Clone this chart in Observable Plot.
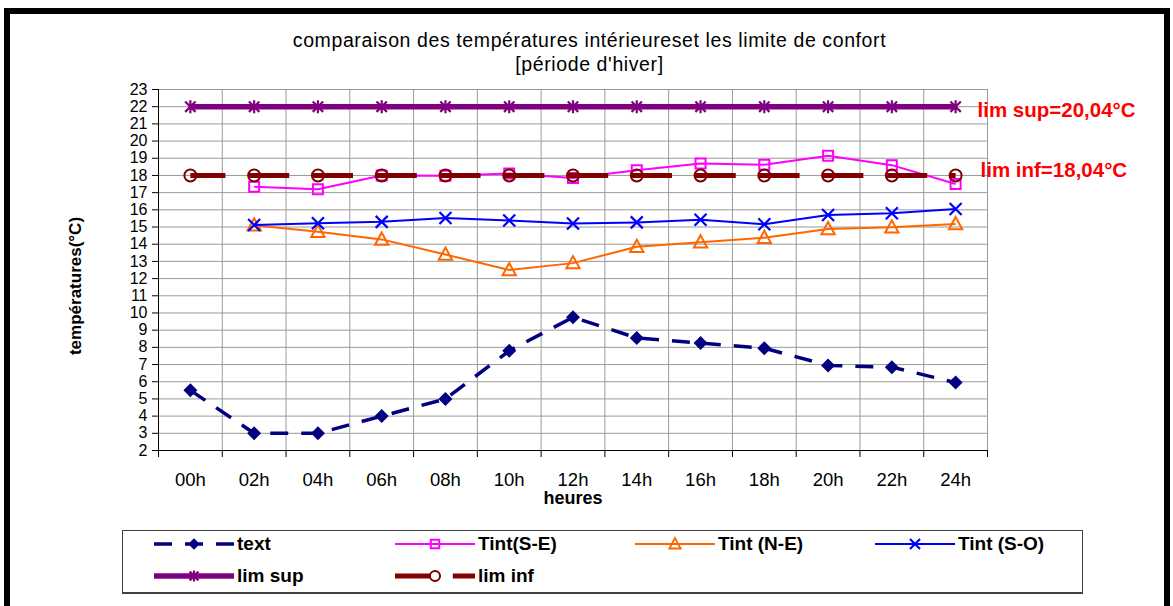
<!DOCTYPE html>
<html>
<head>
<meta charset="utf-8">
<script src="https://cdn.jsdelivr.net/npm/d3@7"></script>
<script src="https://cdn.jsdelivr.net/npm/@observablehq/plot@0.6"></script>
<style>
  html, body { margin: 0; padding: 0; background: #fff; }
  #wrap { position: relative; width: 1173px; height: 606px; overflow: hidden; background: #fff;
          font-family: "Liberation Sans", Arial, sans-serif; }
  #frame { position: absolute; left: 4px; top: 8px; width: 1166px; height: 700px;
           border: 6px solid #000; border-bottom: none; box-sizing: border-box; }
  #title { position: absolute; left: 0; width: 1179px; top: 28px; text-align: center;
           font-size: 19.5px; letter-spacing: 0.6px; line-height: 24px; color: #000; }
  #chart { position: absolute; left: 0; top: 0; }
  #legend { position: absolute; left: 122px; top: 530px; width: 961px; height: 64px;
            border: 1px solid #404040; border-bottom: 2px solid #404040; box-sizing: border-box; background: #fff; }
  .item { position: absolute; display: flex; align-items: center; height: 24px;
          font-weight: bold; font-size: 19px; color: #000; }
  .item svg { display: block; margin-right: 3px; }
</style>
</head>
<body>
<div id="wrap">
  <div id="frame"></div>
  <div id="title">comparaison des températures intérieureset les limite de confort<br>[période d'hiver]</div>
  <div id="chart"></div>
  <div id="legend"></div>
</div>
<script>
// ---- data ----
const hours = ["00h","02h","04h","06h","08h","10h","12h","14h","16h","18h","20h","22h","24h"];
const tExt   = [5.5, 3.0, 3.0, 4.0, 5.0, 7.8, 9.75, 8.55, 8.25, 7.95, 6.95, 6.85, 5.95];
const tintSE = [null, 17.35, 17.2, 18.0, 17.98, 18.12, 17.85, 18.3, 18.7, 18.62, 19.15, 18.6, 17.5];
const tintNE = [null, 15.1, 14.72, 14.28, 13.4, 12.5, 12.9, 13.85, 14.12, 14.38, 14.88, 14.98, 15.18];
const tintSO = [null, 15.12, 15.22, 15.3, 15.52, 15.38, 15.2, 15.27, 15.42, 15.16, 15.7, 15.8, 16.05];
const limSup = [22, 22, 22, 22, 22, 22, 22, 22, 22, 22, 22, 22, 22];
const limInf = [18, 18, 18, 18, 18, 18, 18, 18, 18, 18, 18, 18, 18];
const yTicks = d3.range(2, 24);
const seriesNames = ["text", "Tint(S-E)", "Tint (N-E)", "Tint (S-O)", "lim sup", "lim inf"];
const limSupLabel = "lim sup=20,04°C";
const limInfLabel = "lim inf=18,04°C";
const yTitle = "températures(°C)";
const xTitle = "heures";

// ---- custom Excel-like marker symbols ----
const rad = s => Math.sqrt(s / Math.PI);
const symDiamond = {draw(c, s) { const r = rad(s); c.moveTo(0, -r); c.lineTo(r, 0); c.lineTo(0, r); c.lineTo(-r, 0); c.closePath(); }};
const symSquare = {draw(c, s) { const r = rad(s); c.rect(-r, -r, 2 * r, 2 * r); }};
const symTriangle = {draw(c, s) { const r = rad(s); c.moveTo(0, -r); c.lineTo(r * 0.95, r * 0.75); c.lineTo(-r * 0.95, r * 0.75); c.closePath(); }};
const symTimes = {draw(c, s) { const r = rad(s); c.moveTo(-r, -r); c.lineTo(r, r); c.moveTo(-r, r); c.lineTo(r, -r); }};
const symStar = {draw(c, s) { const r = rad(s); const k = r * 0.8; c.moveTo(0, -r); c.lineTo(0, r); c.moveTo(-k, -k); c.lineTo(k, k); c.moveTo(-k, k); c.lineTo(k, -k); }};
const symCircle = {draw(c, s) { const r = rad(s); c.moveTo(r, 0); c.arc(0, 0, r, 0, 2 * Math.PI); }};

const rows = vals => hours.map((h, i) => ({hour: h, pos: i + 0.5, v: vals[i]})).filter(d => d.v != null);

const series = [
  {name: seriesNames[0], vals: tExt,   color: "#000080", width: 3.5, dash: "18,13", offset: 0, sym: symDiamond, r: 7,   fill: "#000080", mstroke: "none", mw: 0},
  {name: seriesNames[1], vals: tintSE, color: "#FF00FF", width: 2,   dash: null,    offset: 0, sym: symSquare,  r: 5,   fill: "none", mstroke: "#FF00FF", mw: 2},
  {name: seriesNames[2], vals: tintNE, color: "#FF6600", width: 2,   dash: null,    offset: 0, sym: symTriangle,r: 7,   fill: "none", mstroke: "#FF6600", mw: 2},
  {name: seriesNames[3], vals: tintSO, color: "#0000FF", width: 2,   dash: null,    offset: 0, sym: symTimes,   r: 6,   fill: "none", mstroke: "#0000FF", mw: 2.2},
  {name: seriesNames[4], vals: limSup, color: "#800080", width: 5.5, dash: null,    offset: 0, sym: symStar,    r: 6.5, fill: "none", mstroke: "#800080", mw: 2.2},
  {name: seriesNames[5], vals: limInf, color: "#800000", width: 5,   dash: "41,22.8", offset: 6, sym: symCircle, r: 6, fill: "none", mstroke: "#800000", mw: 2}
];

const marks = [
  Plot.gridY(yTicks.slice(1), {stroke: "#9a9a9a", strokeOpacity: 1, strokeWidth: 1}),
  Plot.gridX(d3.range(1, hours.length + 1), {stroke: "#9a9a9a", strokeOpacity: 1, strokeWidth: 1}),
  Plot.axisY(yTicks, {tickSize: 6, tickPadding: 5, fontSize: 16, stroke: "#000", label: null}),
  Plot.axisX(d3.range(0, hours.length + 1), {tickSize: 7, tickFormat: () => "", stroke: "#000", label: null}),
  Plot.axisX(hours.map((h, i) => i + 0.5), {tickSize: 0, tickPadding: 22, fontSize: 18.5, tickFormat: d => hours[Math.round(d - 0.5)], label: null}),
  Plot.ruleX([0], {stroke: "#000", strokeWidth: 1}),
  Plot.ruleY([2], {stroke: "#000", strokeWidth: 1}),
  Plot.text([yTitle], {frameAnchor: "left", textAnchor: "middle", lineAnchor: "middle", rotate: -90, dx: -83, dy: 16, fontWeight: "bold", fontSize: 17, fill: "#000"}),
  Plot.text([xTitle], {frameAnchor: "bottom", textAnchor: "middle", lineAnchor: "middle", dy: 48, fontWeight: "bold", fontSize: 18, fill: "#000"})
];
for (const s of series) {
  const data = rows(s.vals);
  marks.push(Plot.line(data, {x: "pos", y: "v", stroke: s.color, strokeWidth: s.width,
    strokeDasharray: s.dash || undefined, strokeDashoffset: s.offset || undefined,
    strokeLinecap: "butt", strokeLinejoin: "round"}));
  marks.push(Plot.dot(data, {x: "pos", y: "v", symbol: s.sym, r: s.r, fill: s.fill,
    stroke: s.mstroke, strokeWidth: s.mw}));
}
marks.push(Plot.text([{label: limSupLabel, v: limSup[limSup.length - 1]}], {x: () => hours.length, y: "v", text: "label",
  dx: -10, dy: 4, textAnchor: "start", fill: "#FF0000", fontWeight: "bold", fontSize: 20.5}));
marks.push(Plot.text([{label: limInfLabel, v: limInf[limInf.length - 1]}], {x: () => hours.length, y: "v", text: "label",
  dx: -7, dy: -5, textAnchor: "start", fill: "#FF0000", fontWeight: "bold", fontSize: 20.5}));

const chart = Plot.plot({
  width: 1173, height: 520,
  marginLeft: 158, marginRight: 186, marginTop: 89, marginBottom: 70,
  x: {domain: [0, hours.length]},
  y: {domain: [2, 23]},
  style: {fontFamily: "'Liberation Sans', Arial, sans-serif", fontSize: "16px", background: "transparent", color: "#000", overflow: "visible"},
  marks
});
document.getElementById("chart").appendChild(chart);

// ---- legend ----
const legend = document.getElementById("legend");
const cols = [31, 272, 512, 752];
const rowsY = [1, 33];
series.forEach((s, i) => {
  const col = i < 4 ? cols[i] : cols[i - 4];
  const row = i < 4 ? 0 : 1;
  const item = document.createElement("div");
  item.className = "item";
  item.style.left = col + "px";
  item.style.top = rowsY[row] + "px";
  const path = d3.symbol(s.sym, Math.PI * s.r * s.r * 0.7)();
  item.innerHTML =
    `<svg width="80" height="20" viewBox="0 0 80 20">` +
    `<line x1="0" x2="80" y1="10" y2="10" stroke="${s.color}" stroke-width="${s.width}" stroke-linecap="butt"` +
    (s.dash ? ` stroke-dasharray="${s.dash}" stroke-dashoffset="${s.offset}"` : "") + `/>` +
    `<path transform="translate(40,10)" d="${path}" fill="${s.fill}" stroke="${s.mstroke}" stroke-width="${s.mw}"/>` +
    `</svg><span>${s.name}</span>`;
  legend.appendChild(item);
});
</script>
</body>
</html>
